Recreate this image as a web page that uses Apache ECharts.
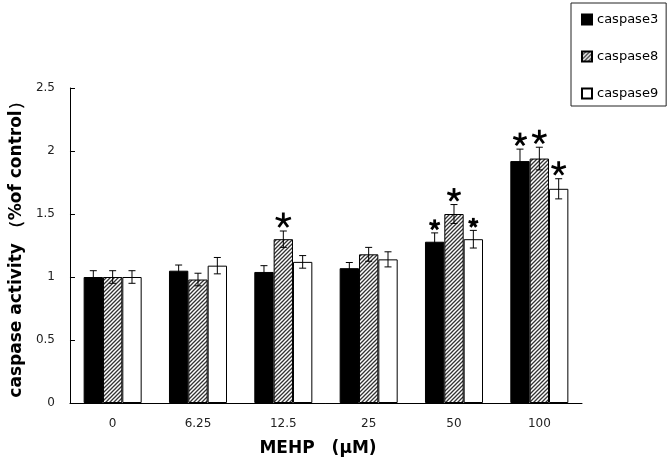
<!DOCTYPE html>
<html>
<head>
<meta charset="utf-8">
<script src="https://cdn.jsdelivr.net/npm/echarts@6/dist/echarts.min.js"></script>
<style>html,body{margin:0;padding:0;background:#fff;}#c{width:672px;height:475px;}</style>
</head>
<body>
<div id="c"></div>
<script>
const categories = ['0', '6.25', '12.5', '25', '50', '100'];
const seriesNames = ['caspase3', 'caspase8', 'caspase9'];
const caspase3 = [1.00, 1.05, 1.04, 1.07, 1.28, 1.92];
const caspase8 = [1.00, 0.98, 1.30, 1.18, 1.50, 1.94];
const caspase9 = [1.00, 1.09, 1.12, 1.14, 1.30, 1.70];
const err3 = [0.05, 0.045, 0.05, 0.045, 0.07, 0.095];
const err8 = [0.05, 0.05, 0.065, 0.055, 0.075, 0.09];
const err9 = [0.05, 0.065, 0.05, 0.06, 0.07, 0.08];
const sig3 = [0, 0, 0, 0, 1, 1];
const sig8 = [0, 0, 1, 0, 1, 1];
const sig9 = [0, 0, 0, 0, 1, 1];
const yTicks = ['0', '0.5', '1', '1.5', '2', '2.5'];

// styling (not data)
const GAP = 0.32;
const starR = [[7,7,7,7,5.5,7],[7,7,8,7,7,7.5],[7,7,7,7,5,7.5]];
const FONT = 'DejaVu Sans';

function hatch() {
  const cv = document.createElement('canvas');
  cv.width = 4; cv.height = 4;
  const g = cv.getContext('2d');
  g.fillStyle = '#fff'; g.fillRect(0, 0, 4, 4);
  g.strokeStyle = '#333'; g.lineWidth = 1.3;
  g.beginPath();
  g.moveTo(0, 4); g.lineTo(4, 0);
  g.moveTo(-1, 1); g.lineTo(1, -1);
  g.moveTo(3, 5); g.lineTo(5, 3);
  g.stroke();
  return {image: cv, repeat: 'repeat'};
}

const values = [caspase3, caspase8, caspase9];
const errs = [err3, err8, err9];
const sigs = [sig3, sig8, sig9];
const fills = ['#000', hatch(), '#fff'];

const errData = [];
for (let s = 0; s < 3; s++) {
  for (let i = 0; i < categories.length; i++) {
    errData.push([i, s, values[s][i], errs[s][i], sigs[s][i]]);
  }
}

function star(cx, cy, r) {
  const kids = [];
  for (let k = 0; k < 5; k++) {
    const a = (90 + 72 * k) * Math.PI / 180;
    kids.push({type: 'line', shape: {x1: cx, y1: cy, x2: cx + r * Math.cos(a), y2: cy - r * Math.sin(a)},
      style: {stroke: '#000', lineWidth: 2.8, lineCap: 'butt'}});
  }
  return kids;
}

function renderItem(params, api) {
  const cat = api.value(0), s = api.value(1), v = api.value(2), e = api.value(3), sig = api.value(4);
  const band = api.size([1, 0])[0];
  const bw = band * (1 - GAP) / 3;
  const c = api.coord([cat, v]);
  const x = c[0] + (s - 1) * bw;
  const top = api.coord([cat, v + e])[1];
  const bot = api.coord([cat, v - e])[1];
  const st = {stroke: '#000', lineWidth: 1};
  const cw = 3.5;
  let children = [
    {type: 'line', shape: {x1: x, y1: top, x2: x, y2: bot}, style: st},
    {type: 'line', shape: {x1: x - cw, y1: top, x2: x + cw, y2: top}, style: st},
    {type: 'line', shape: {x1: x - cw, y1: bot, x2: x + cw, y2: bot}, style: st}
  ];
  if (sig) {
    const r = starR[s][cat];
    children = children.concat(star(x, top - r - 2.5, r));
  }
  return {type: 'group', children: children};
}

const chart = echarts.init(document.getElementById('c'), null, {renderer: 'canvas'});
const barSeries = seriesNames.map((n, s) => ({
  name: n, type: 'bar', data: values[s],
  barGap: 0, barCategoryGap: (GAP * 100) + '%',
  itemStyle: {color: fills[s], borderColor: '#000', borderWidth: 1},
  emphasis: {disabled: true}, animation: false
}));

chart.setOption({
  animation: false,
  backgroundColor: '#fff',
  grid: {left: 63, right: 90, top: 88, bottom: 72, containLabel: false},
  legend: {
    data: seriesNames, orient: 'vertical', left: 571, top: 3,
    borderColor: '#222', borderWidth: 1, padding: [10, 8, 6, 10],
    itemGap: 24, itemWidth: 10, itemHeight: 10, icon: 'rect',
    textStyle: {fontFamily: FONT, fontSize: 13, color: '#000'}
  },
  xAxis: {
    type: 'category', data: categories,
    name: 'MEHP　(μM)', nameLocation: 'middle', nameGap: 37,
    nameTextStyle: {fontFamily: FONT, fontWeight: 'bold', fontSize: 17, color: '#000', padding: [0, 16, 0, 0]},
    axisLine: {lineStyle: {color: '#000', width: 1}},
    axisTick: {inside: true, length: 4, lineStyle: {color: '#000'}},
    axisLabel: {fontFamily: FONT, fontSize: 12, color: '#222', margin: 15}
  },
  yAxis: {
    type: 'value', min: 0, max: 2.5, interval: 0.5,
    name: 'caspase activity （%of control）', nameLocation: 'middle', nameGap: 36,
    nameTextStyle: {fontFamily: FONT, fontWeight: 'bold', fontSize: 17, color: '#000'},
    axisLine: {show: true, lineStyle: {color: '#000', width: 1}},
    axisTick: {show: true, inside: true, length: 5, lineStyle: {color: '#000'}},
    splitLine: {show: false},
    axisLabel: {fontFamily: FONT, fontSize: 12, color: '#222', margin: 15,
      formatter: (v) => yTicks[Math.round(v / 0.5)]}
  },
  series: barSeries.concat([{
    type: 'custom', renderItem: renderItem, data: errData, z: 10,
    silent: true, animation: false
  }])
});
</script>
</body>
</html>
